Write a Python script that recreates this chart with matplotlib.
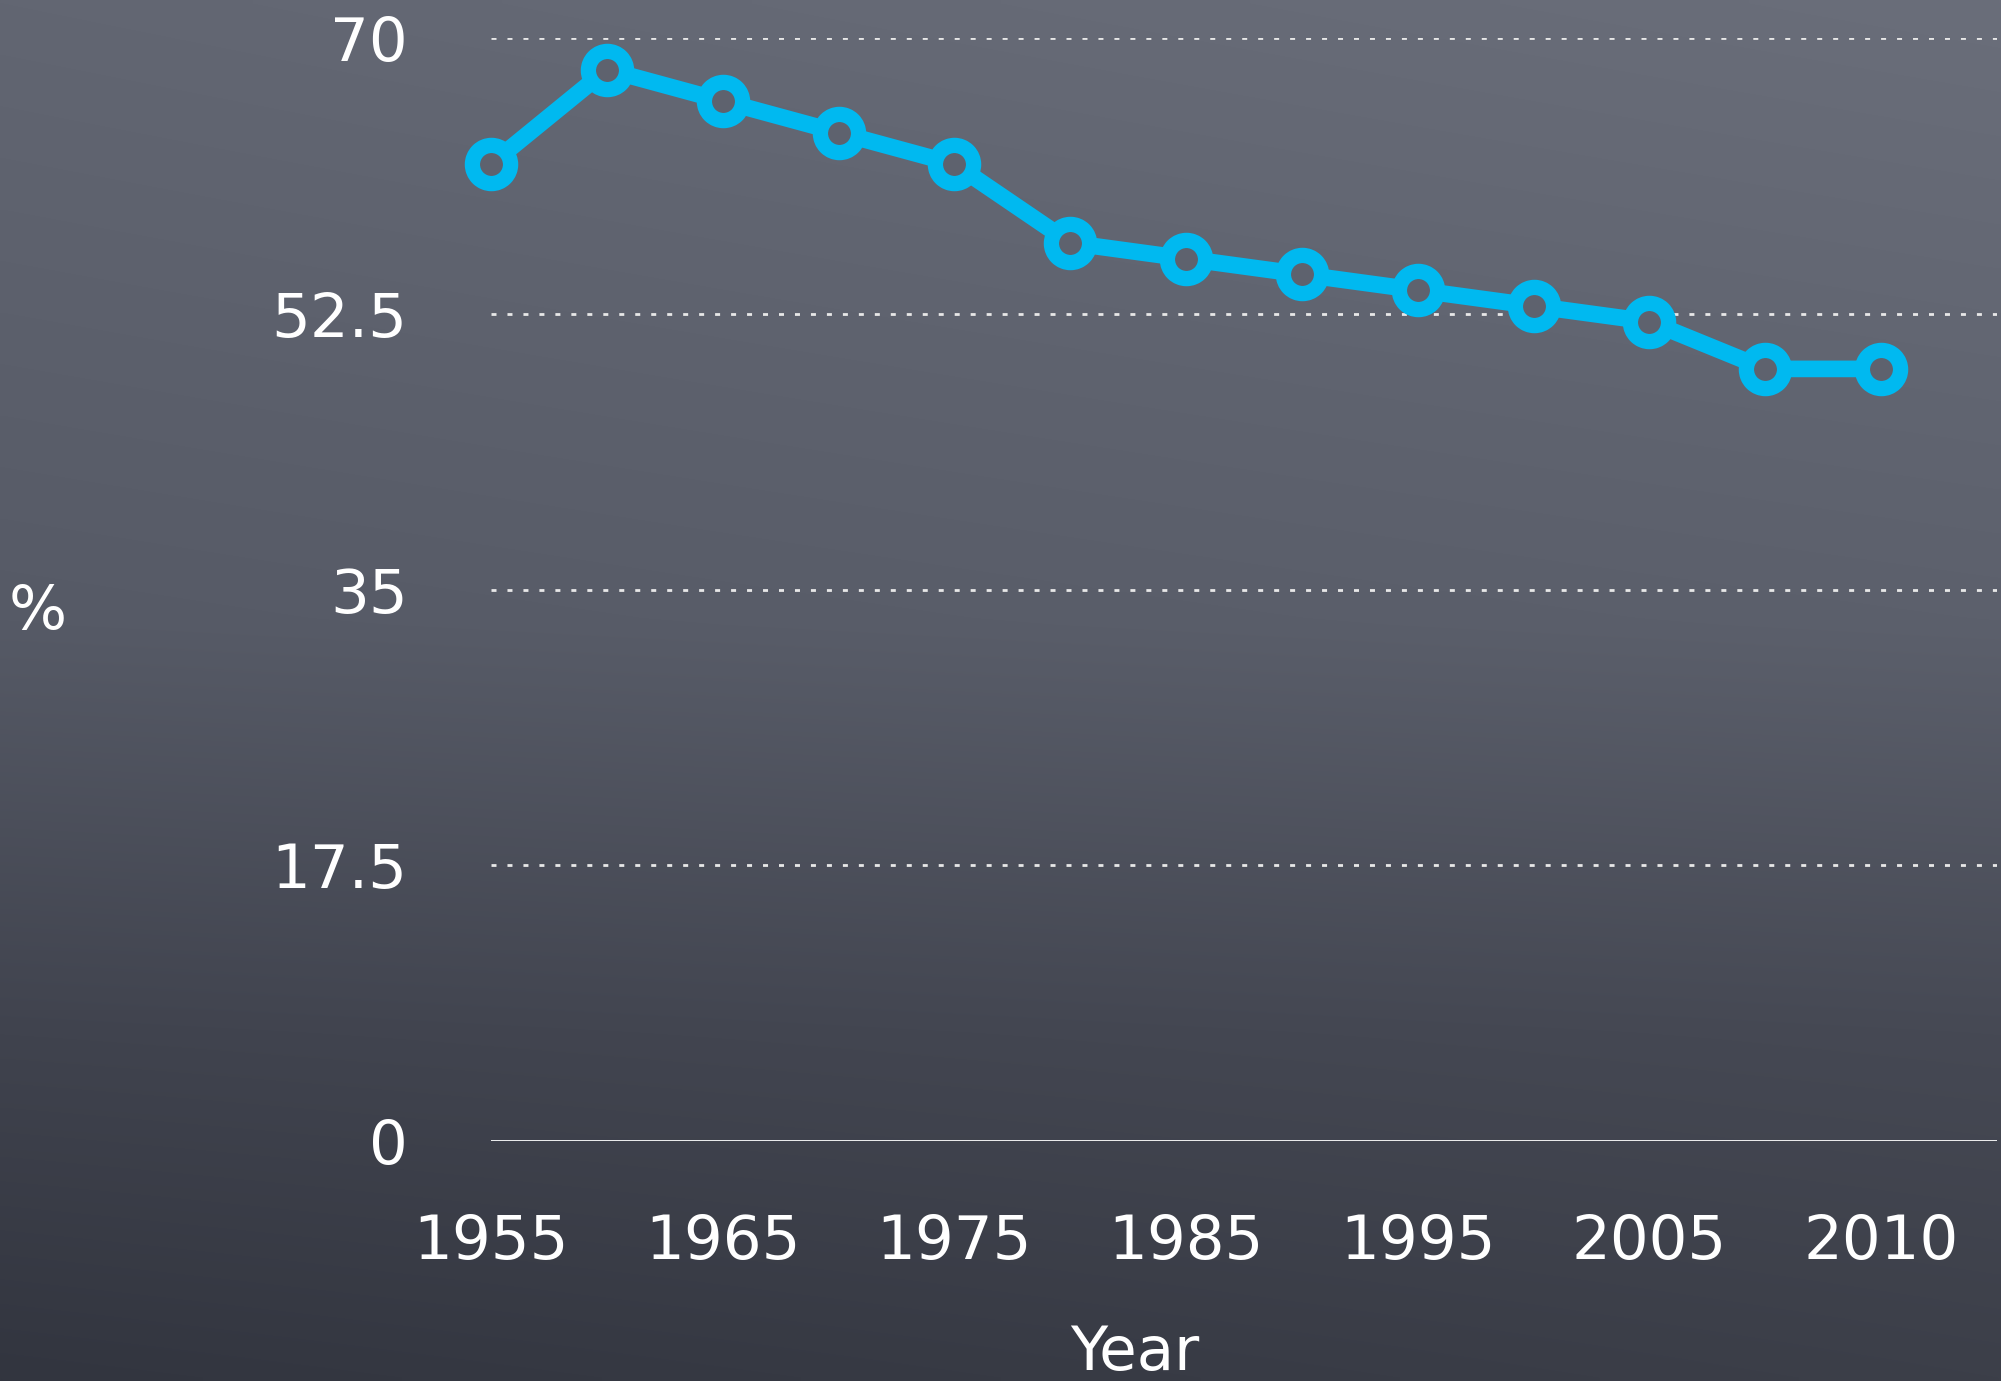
import numpy as np
import matplotlib
matplotlib.use("Agg")
import matplotlib.pyplot as plt

# ---- data ----
years = ["1955", "1960", "1965", "1970", "1975", "1980", "1985",
         "1990", "1995", "2000", "2005", "2008", "2010"]
values = [62, 68, 66, 64, 62, 57, 56, 55, 54, 53, 52, 49, 49]
y_ticks = [0, 17.5, 35, 52.5, 70]
y_tick_labels = ["0", "17.5", "35", "52.5", "70"]

plt.rcParams['font.family'] = ['DejaVu Sans']
plt.rcParams['lines.scale_dashes'] = False

W, H = 2001, 1381
fig = plt.figure(figsize=(W / 100, H / 100), dpi=100)

# ---- chalkboard-like gradient background ----
ny, nx = 200, 300
yy = np.linspace(0, 1, ny)[:, None]   # 0 = top
xx = np.linspace(0, 1, nx)[None, :]
ctrl_y = [0.0, 0.45, 0.75, 1.0]
left_cols = np.array([[98, 102, 114], [86, 90, 102], [64, 67, 78], [50, 53, 63]], float)
right_cols = np.array([[106, 110, 122], [92, 96, 108], [70, 73, 84], [60, 63, 73]], float)
img = np.zeros((ny, nx, 3))
for c in range(3):
    lc = np.interp(yy[:, 0], ctrl_y, left_cols[:, c])[:, None]
    rc = np.interp(yy[:, 0], ctrl_y, right_cols[:, c])[:, None]
    img[:, :, c] = lc * (1 - xx) + rc * xx
img = img / 255.0
bg = fig.add_axes([0, 0, 1, 1], zorder=-10)
bg.imshow(img, aspect='auto', extent=[0, 1, 0, 1], interpolation='bilinear')
bg.set_axis_off()

# ---- main axes ----
ax = fig.add_axes([491 / W, (H - 1141) / H, (1997 - 491) / W, (1141 - 38) / H])
ax.patch.set_alpha(0)

x = np.arange(len(years))
ax.set_xlim(0, 13)
ax.set_ylim(0, 70)

# grid
for yv in y_ticks[1:]:
    ax.axhline(yv, color='#e8e8e8', lw=2.0, dashes=(3.6, 7.9), zorder=1)
ax.axhline(0, color='white', lw=2.0, zorder=1)

ax.plot(x, values, color='#00b9f0', lw=12, marker='o', markersize=27.5,
        markeredgewidth=11, markerfacecolor='#5e626e',
        markeredgecolor='#00b9f0', clip_on=False, zorder=5,
        solid_capstyle='butt', solid_joinstyle='round')

ax.set_yticks(y_ticks)
ax.set_yticklabels(y_tick_labels)
ax.set_xticks(x[::2])
ax.set_xticklabels(years[::2])
ax.tick_params(axis='y', length=0, pad=60, labelsize=44, labelcolor='white')
ax.tick_params(axis='x', length=0, pad=52, labelsize=44, labelcolor='white')
for s in ax.spines.values():
    s.set_visible(False)

fig.text(38 / W, 1 - 613 / H, "%", color='white', fontsize=44,
         ha='center', va='center')
fig.text(1135 / W, (H - 1370) / H, "Year", color='white', fontsize=44,
         ha='center', va='baseline')

fig.savefig("out.png", dpi=100)
